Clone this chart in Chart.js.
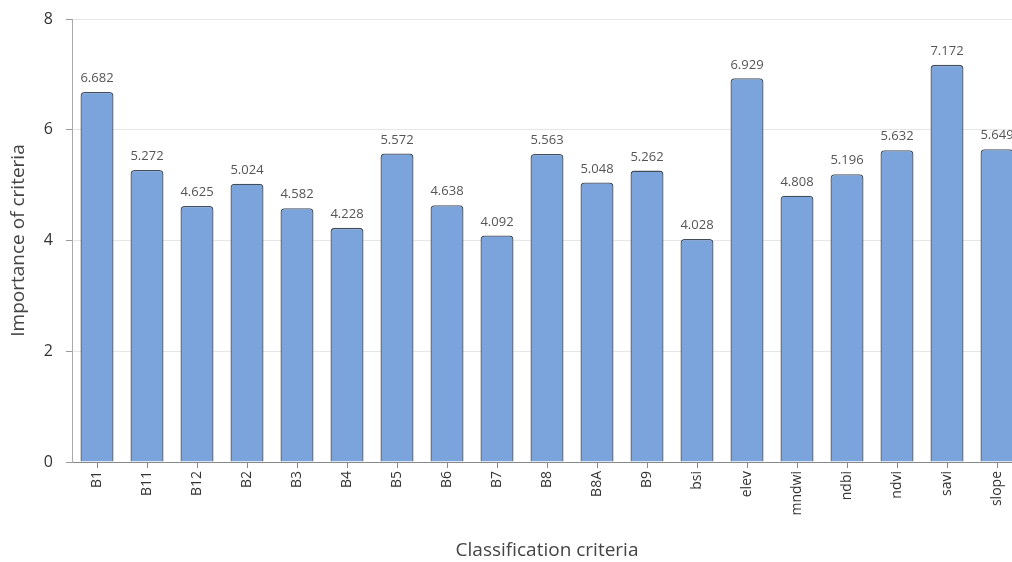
<!DOCTYPE html>
<html>
<head>
<meta charset="utf-8">
<script src="https://cdn.jsdelivr.net/npm/chart.js@4"></script>
<style>
html,body{margin:0;padding:0;overflow:hidden;background:#fff;}
#wrap{position:relative;width:1022px;height:562px;}
</style>
</head>
<body>
<div id="wrap"><canvas id="c"></canvas></div>
<script>
const categories = ["B1","B11","B12","B2","B3","B4","B5","B6","B7","B8","B8A","B9","bsi","elev","mndwi","ndbi","ndvi","savi","slope"];
const importance = [6.682,5.272,4.625,5.024,4.582,4.228,5.572,4.638,4.092,5.563,5.048,5.262,4.028,6.929,4.808,5.196,5.632,7.172,5.649];
const yTicks = [0,2,4,6,8];
const xTitle = "Classification criteria";
const yTitle = "Importance of criteria";

const FONT = "'Open Sans', 'Noto Sans', sans-serif";

const valueLabels = {
  id: 'valueLabels',
  afterDatasetsDraw(chart) {
    const ctx = chart.ctx;
    const meta = chart.getDatasetMeta(0);
    ctx.save();
    ctx.font = "13px " + FONT;
    ctx.fillStyle = "#555";
    ctx.textAlign = "center";
    ctx.textBaseline = "bottom";
    meta.data.forEach((bar, i) => {
      ctx.fillText(importance[i].toFixed(3), bar.x, bar.y - 7);
    });
    ctx.restore();
  }
};

new Chart(document.getElementById('c'), {
  type: 'bar',
  data: {
    labels: categories,
    datasets: [{
      data: importance,
      backgroundColor: '#7aa4db',
      borderColor: '#434d5a',
      borderWidth: 1.3,
      borderSkipped: 'bottom',
      borderRadius: {topLeft: 4, topRight: 4, bottomLeft: 0, bottomRight: 0},
      categoryPercentage: 1.0,
      barPercentage: 0.66
    }]
  },
  options: {
    responsive: true,
    maintainAspectRatio: false,
    animation: false,
    layout: {padding: {top: 19, right: 0, bottom: 0, left: 0}},
    plugins: {legend: {display: false}, tooltip: {enabled: false}},
    scales: {
      x: {
        grid: {display: true, drawOnChartArea: false, drawTicks: true, tickLength: 6, offset: false, color: '#888'},
        border: {display: true, color: '#888'},
        ticks: {
          autoSkip: false, minRotation: 90, maxRotation: 90, padding: 3,
          color: '#333', font: {family: FONT, size: 14}
        },
        title: {display: true, text: xTitle, color: '#444', font: {family: FONT, size: 19}, padding: {top: 0, bottom: 0}},
        afterFit(scale) { scale.height = 100; scale.paddingTop = 0; scale.paddingBottom = 0; }
      },
      y: {
        min: 0, max: 8,
        afterBuildTicks(scale) { scale.ticks = yTicks.map(v => ({value: v})); },
        grid: {color: '#e6e6e6', tickLength: 6, drawTicks: true,
               tickColor: '#999'},
        border: {display: true, color: '#aaa'},
        ticks: {color: '#333', padding: 13, font: {family: FONT, size: 16}},
        title: {display: true, text: yTitle, color: '#444', font: {family: FONT, size: 19}, padding: {top: 7, bottom: 0}},
        afterFit(scale) { scale.width = 72; scale.paddingTop = 0; scale.paddingBottom = 0; }
      }
    }
  },
  plugins: [valueLabels]
});
</script>
</body>
</html>
